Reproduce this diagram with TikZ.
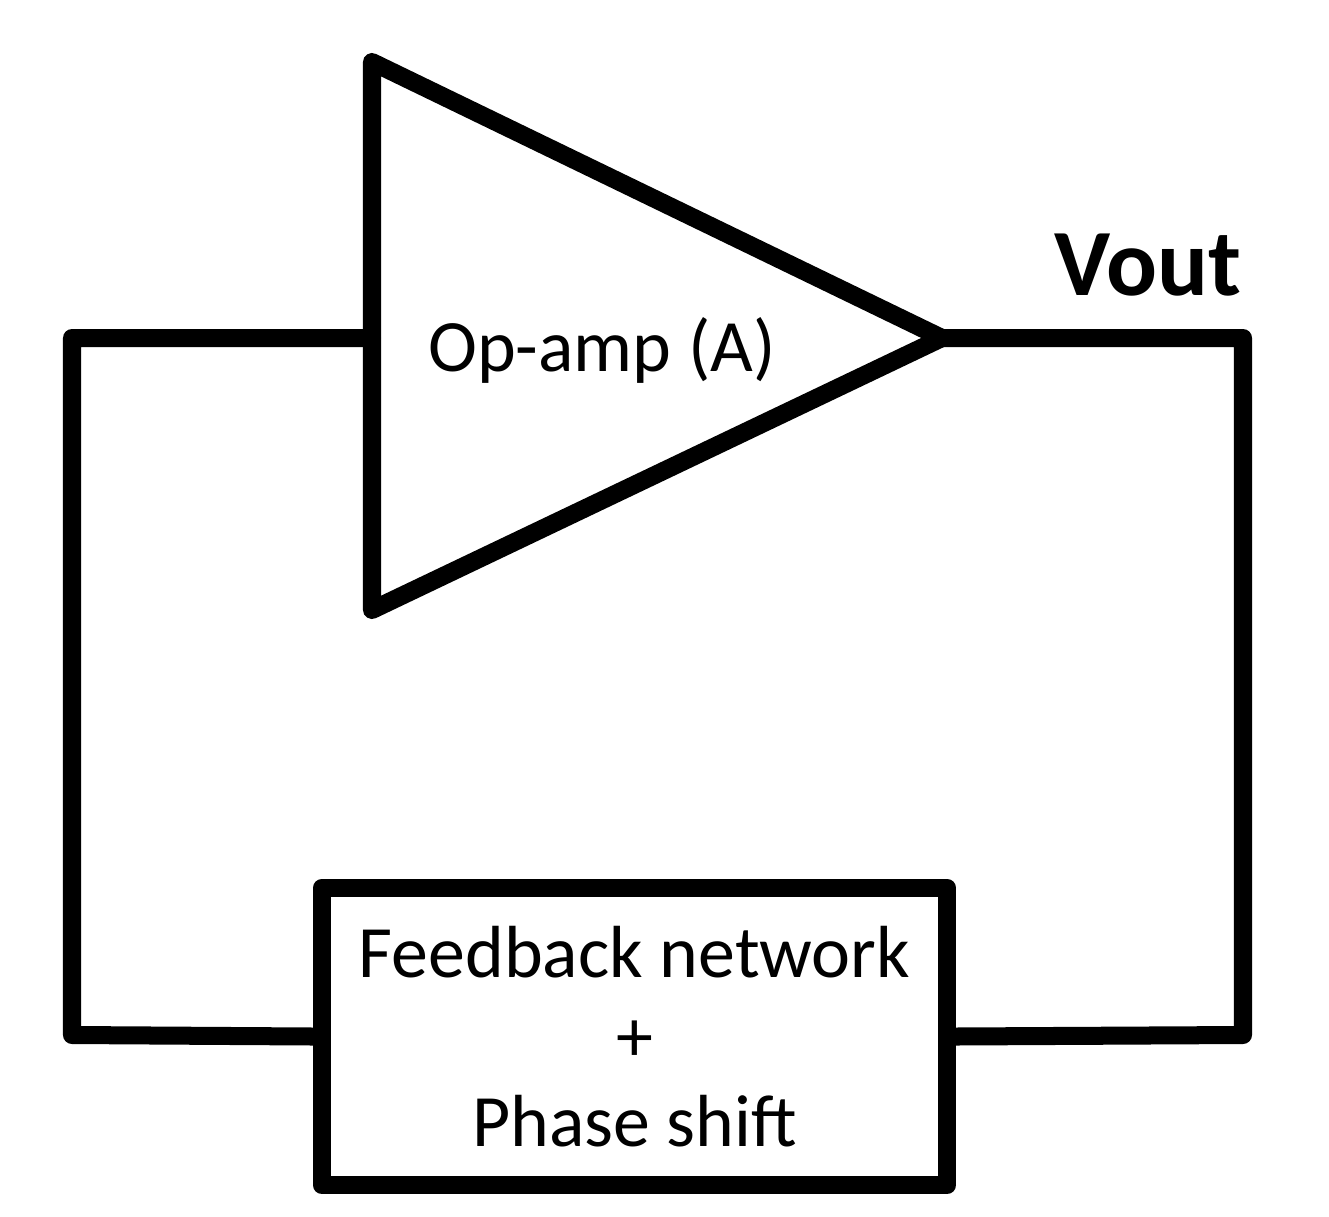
\documentclass[tikz,border=0pt]{standalone}
\usepackage{fontspec}
\setmainfont{Carlito}
\begin{document}
\begin{tikzpicture}[x=0.01cm,y=-0.01cm,
  wire/.style={line width=0.18cm,line join=round,line cap=round},
  lbl/.style={font=\fontsize{21pt}{26pt}\selectfont,align=center}]
\useasboundingbox (0,0) rectangle (1329,1217);
\coordinate (t1) at (372,62);
\coordinate (t2) at (372,610);
\coordinate (out) at (942,338);
\coordinate (in) at (372,338);
\draw[wire] (t1) -- (out) -- (t2) -- cycle;
\node[lbl] (amp) at (602,350) {Op-amp (A)};
\node[font=\fontsize{27pt}{32pt}\selectfont\bfseries] (vout) at (1148,265) {Vout};
\node[wire,draw,minimum width=6.25cm,minimum height=2.97cm,inner sep=0pt,lbl] (fb) at (634.5,1036.5)
  {Feedback network\\[-2pt]+\\[-2pt]Phase shift};
\coordinate (lt) at (72,338);
\coordinate (lb) at (72,1035);
\coordinate (rt) at (1243,338);
\coordinate (rb) at (1243,1035);
\draw[wire] (in) -- (lt) -- (lb) -- (fb.west);
\draw[wire] (out) -- (rt) -- (rb) -- (fb.east);
\end{tikzpicture}
\end{document}
